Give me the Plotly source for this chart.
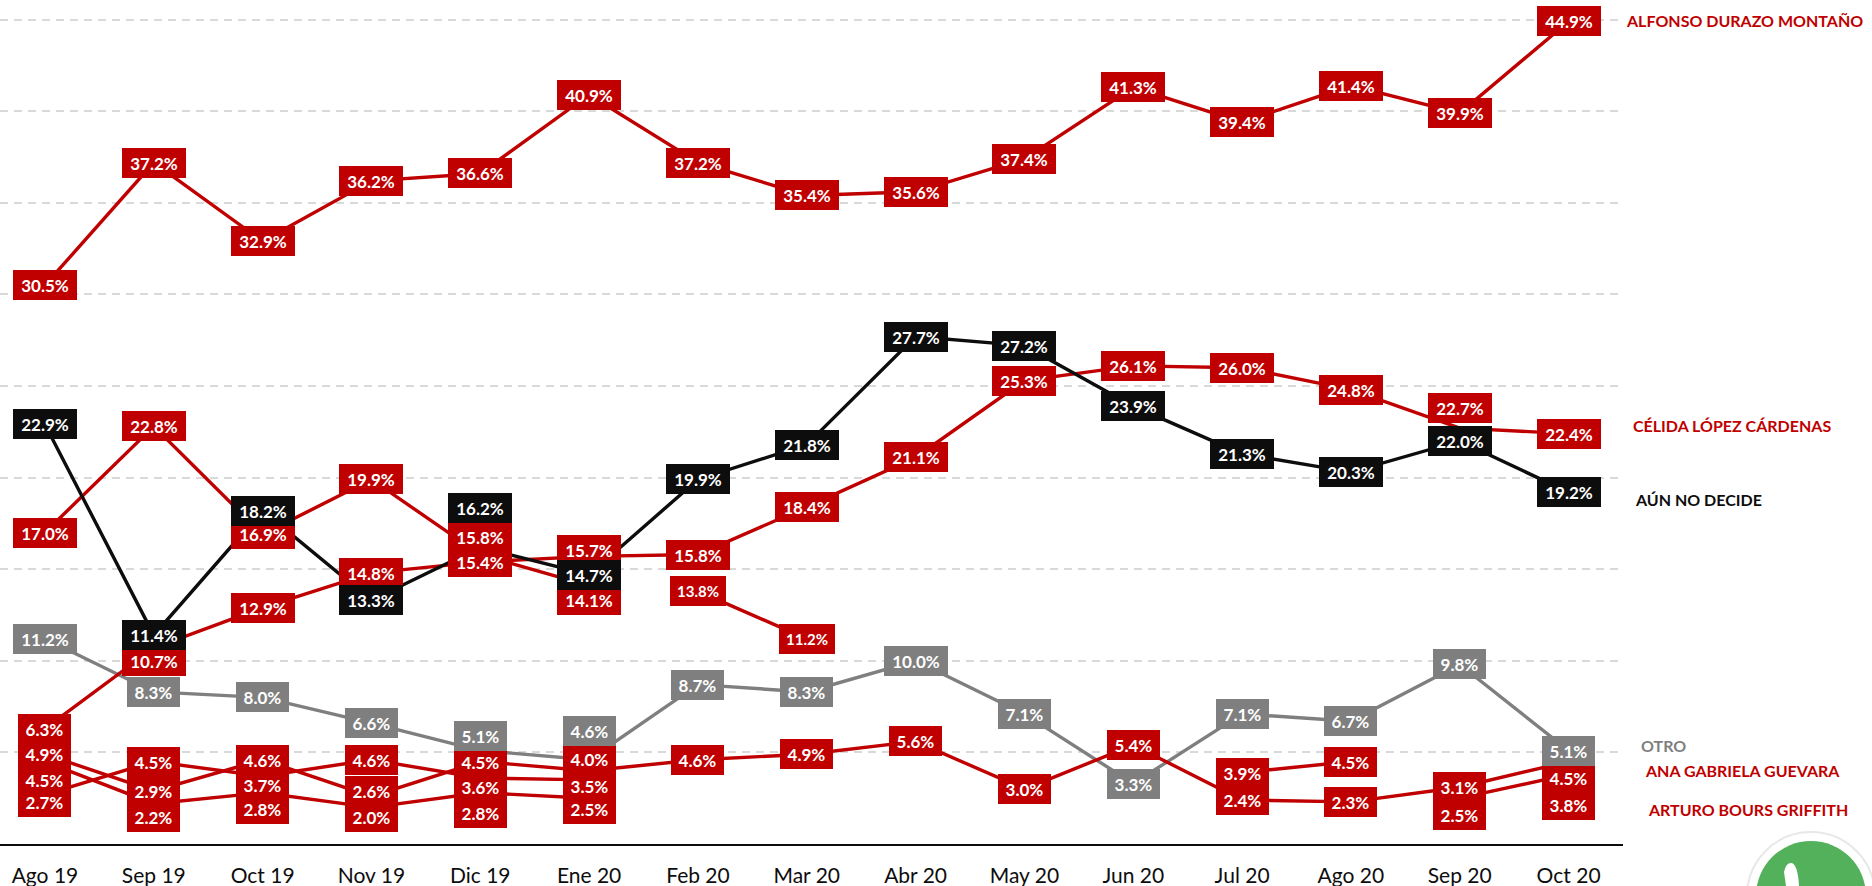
import plotly.graph_objects as go

# ---------------- data ----------------
months = ["Ago 19", "Sep 19", "Oct 19", "Nov 19", "Dic 19", "Ene 20", "Feb 20", "Mar 20",
          "Abr 20", "May 20", "Jun 20", "Jul 20", "Ago 20", "Sep 20", "Oct 20"]

alfonso = [30.5, 37.2, 32.9, 36.2, 36.6, 40.9, 37.2, 35.4, 35.6, 37.4, 41.3, 39.4, 41.4, 39.9, 44.9]
celida = [6.3, 10.7, 12.9, 14.8, 15.4, 15.7, 15.8, 18.4, 21.1, 25.3, 26.1, 26.0, 24.8, 22.7, 22.4]
no_decide = [22.9, 11.4, 18.2, 13.3, 16.2, 14.7, 19.9, 21.8, 27.7, 27.2, 23.9, 21.3, 20.3, 22.0, 19.2]
otro = [11.2, 8.3, 8.0, 6.6, 5.1, 4.6, 8.7, 8.3, 10.0, 7.1, 3.3, 7.1, 6.7, 9.8, 5.1]
ana = [4.9, 2.9, 4.6, 2.6, 4.5, 4.0, 4.6, 4.9, 5.6, 3.0, 5.4, 2.4, 2.3, 3.1, 4.5]
arturo = [4.5, 2.2, 2.8, 2.0, 2.8, 2.5, None, None, None, None, None, None, None, 2.5, 3.8]
candidato_a = [17.0, 22.8, 16.9, 19.9, 15.8, 14.1, None, None, None, None, None, None, None, None, None]
candidato_b = [None, None, None, None, None, None, 13.8, 11.2, None, None, None, None, None, None, None]
candidato_c = [2.7, 4.5, 3.7, 4.6, 3.6, 3.5, None, None, None, None, None, 3.9, 4.5, None, None]

end_labels = ["ALFONSO DURAZO MONTAÑO", "CÉLIDA LÓPEZ CÁRDENAS", "AÚN NO DECIDE", "OTRO",
              "ANA GABRIELA GUEVARA", "ARTURO BOURS GRIFFITH"]

# ---------------- styling / layout ----------------
RED = "#C00000"
BLACK = "#0D0D0D"
GRAY = "#7F7F7F"
FONT = "Lato"

W, H = 1872, 886
PLOT_W, PLOT_H = 1623, 844
YMAX = 46.07

# label nudges in pixels (positive = down), per series key and month index
nudges = {
    "celida": {1: 13, 5: -6, 13: -20},
    "candidato_a": {4: -18, 5: 14},
    "no_decide": {4: -39},
    "otro": {4: -15, 5: -29},
    "ana": {3: -5, 5: -12, 14: 16},
    "candidato_c": {0: 7, 2: 9, 4: 9, 5: 6},
    "arturo": {0: 18, 1: 13, 2: 16, 3: 10, 4: 20, 5: 11, 13: 17, 14: 31},
}

series = [
    ("otro", otro, GRAY, 17),
    ("candidato_c", candidato_c, RED, 17),
    ("arturo", arturo, RED, 17),
    ("ana", ana, RED, 17),
    ("candidato_b", candidato_b, RED, 15),
    ("candidato_a", candidato_a, RED, 17),
    ("celida", celida, RED, 17),
    ("no_decide", no_decide, BLACK, 17),
    ("alfonso", alfonso, RED, 17),
]

fig = go.Figure()
for key, vals, color, fs in series:
    fig.add_trace(go.Scatter(x=months, y=vals, mode="lines", name=key,
                             line=dict(color=color, width=3.4), connectgaps=False,
                             hoverinfo="skip"))

annotations = []
label_order = ["candidato_c", "arturo", "ana", "candidato_b", "candidato_a", "celida",
               "no_decide", "alfonso", "otro"]
smap = {s[0]: s for s in series}
for key in label_order:
    _, vals, color, fs = smap[key]
    for i, v in enumerate(vals):
        if v is None:
            continue
        txt = f"{v:.1f}%"
        if fs < 17:
            w = 56
        else:
            w = 64 if len(txt) >= 5 else 53
        annotations.append(dict(
            x=months[i], y=v, xref="x", yref="y", text=f"<b>{txt}</b>",
            showarrow=False, bgcolor=color, borderpad=0, borderwidth=0,
            width=w, height=30, align="center", valign="middle",
            yshift=-nudges.get(key, {}).get(i, 0),
            font=dict(family=FONT, size=fs, color="white"),
        ))

# end-of-line names
end_pos = [(1624, 20, RED), (1631, 426, RED), (1633, 499, BLACK), (1639, 745, GRAY),
           (1643, 770, RED), (1646, 809, RED)]
for name, (px, py, c) in zip(end_labels, end_pos):
    annotations.append(dict(
        x=px / PLOT_W, y=(PLOT_H - py) / PLOT_H, xref="paper", yref="paper",
        xanchor="left", yanchor="middle", text=f"<b>{name}</b>", showarrow=False,
        font=dict(family=FONT, size=16, color=c),
    ))


def px2x(px):
    return px / PLOT_W


def py2y(py):
    return (PLOT_H - py) / PLOT_H


shapes = [
    # logo ring and green disc (bottom-right corner, mostly cut off)
    dict(type="circle", xref="paper", yref="paper",
         x0=px2x(1811 - 64), x1=px2x(1811 + 64), y0=py2y(896 + 64), y1=py2y(896 - 64),
         line=dict(color="#E8E8E8", width=2), fillcolor="white", layer="above"),
    dict(type="circle", xref="paper", yref="paper",
         x0=px2x(1811 - 55), x1=px2x(1811 + 55), y0=py2y(896 + 55), y1=py2y(896 - 55),
         line=dict(width=0), fillcolor="#52B15A", layer="above"),
    dict(type="path", xref="paper", yref="paper", layer="above",
         path=(f"M {px2x(1786)},{py2y(886)} L {px2x(1784)},{py2y(872)} "
               f"Q {px2x(1786)},{py2y(862)} {px2x(1792)},{py2y(863)} "
               f"Q {px2x(1798)},{py2y(866)} {px2x(1799)},{py2y(886)} Z"),
         fillcolor="white", line=dict(width=0)),
]

fig.update_layout(
    width=W, height=H,
    margin=dict(l=0, r=W - PLOT_W, t=0, b=H - PLOT_H, pad=0),
    paper_bgcolor="white", plot_bgcolor="white",
    showlegend=False,
    xaxis=dict(type="category", categoryorder="array", categoryarray=months,
               range=[-0.413, 14.5], showgrid=False, zeroline=False,
               showline=True, linecolor=BLACK, linewidth=2, ticks="",
               tickfont=dict(family=FONT, size=21, color=BLACK),
               ticklabelstandoff=12, automargin=False, fixedrange=True),
    yaxis=dict(range=[0, YMAX], tick0=0, dtick=5, showticklabels=False,
               showgrid=True, gridcolor="#D9D9D9", gridwidth=1.5, griddash="8px,6px",
               zeroline=False, showline=False, automargin=False, fixedrange=True),
    annotations=annotations,
    shapes=shapes,
)

fig.write_html(
    "out.html",
    config={"displayModeBar": False},
    post_script="document.body.style.margin='0';document.body.style.overflow='hidden';",
)
